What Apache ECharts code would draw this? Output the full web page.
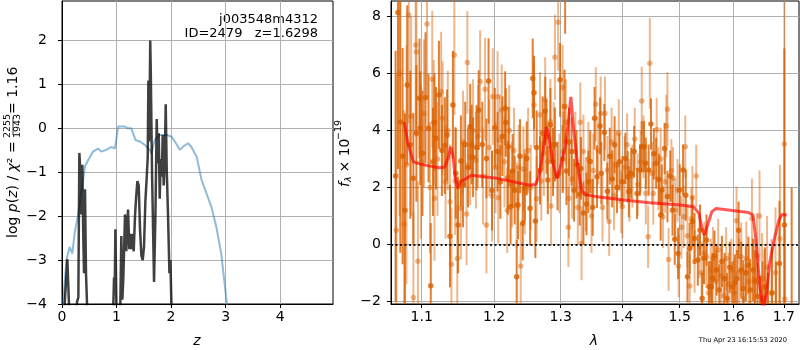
<!DOCTYPE html>
<html lang="en">
<head>
    <meta charset="UTF-8">
    <title>j003548m4312 redshift fit</title>
    <style>
        body {
            margin: 0;
            background: #fff;
        }

        #chart {
            width: 800px;
            height: 350px;
        }
    </style>
</head>
<body>
    <div id="chart"></div>
    <script src="https://cdn.jsdelivr.net/npm/echarts@6/dist/echarts.min.js"></script>
    <script>
        // ---- left panel: log p(z) ----
        var zTicks = [0, 1, 2, 3, 4];
        var logpTicks = [-4, -3, -2, -1, 0, 1, 2];

        // chi2 curve (blue), [z, value]
        var pzChi2 = [
            [0.0, -4.4], [0.02, -4.0], [0.08, -3.0], [0.14, -2.7], [0.17, -2.66], [0.19, -2.85],
            [0.23, -2.4], [0.29, -2.0], [0.35, -1.48], [0.42, -0.87], [0.48, -0.72], [0.57, -0.53],
            [0.66, -0.46], [0.72, -0.53], [0.81, -0.49], [0.91, -0.42], [0.97, -0.46], [1.0, -0.42],
            [1.03, 0.04], [1.06, 0.08], [1.15, 0.04], [1.21, 0.0], [1.27, 0.0], [1.30, -0.04],
            [1.35, -0.27], [1.43, -0.3], [1.52, -0.38], [1.61, -0.49], [1.64, -0.57], [1.70, -0.27],
            [1.79, -0.15], [1.92, -0.15], [2.01, -0.19], [2.07, -0.3], [2.16, -0.49], [2.22, -0.42],
            [2.31, -0.34], [2.37, -0.42], [2.47, -0.65], [2.56, -1.18], [2.65, -1.48], [2.74, -1.79],
            [2.83, -2.24], [2.92, -2.85], [3.02, -3.95], [3.1, -4.8], [3.2, -5.8]
        ];

        // log p(z) (black), [z, value]
        var pzLog = [
            [0.0, -6], [0.04, -6], [0.049, -4.0], [0.098, -2.98], [0.128, -4.0], [0.15, -6], [0.255, -6],
            [0.275, -3.95], [0.30, -3.85], [0.318, -0.56], [0.336, -0.95], [0.355, -1.96], [0.373, -0.83],
            [0.391, -2.5], [0.404, -3.3], [0.422, -1.39], [0.44, -3.3], [0.459, -4.0], [0.48, -6],
            [0.92, -6], [0.942, -4.0], [0.954, -3.4], [0.966, -3.8], [0.979, -2.3], [0.997, -4.0],
            [1.015, -6], [1.05, -6], [1.07, -4.0], [1.088, -2.45], [1.107, -3.9], [1.125, -3.4],
            [1.156, -1.96], [1.18, -2.8], [1.211, -1.85], [1.235, -2.75], [1.254, -2.4], [1.272, -2.75],
            [1.29, -2.4], [1.315, -2.8], [1.339, -2.0], [1.358, -1.6], [1.382, -1.2], [1.407, -1.3],
            [1.431, -2.3], [1.456, -2.9], [1.48, -3.0], [1.504, -2.7], [1.529, -1.66], [1.553, -1.13],
            [1.572, -0.67], [1.584, 1.09], [1.596, -0.3], [1.612, 1.2], [1.618, 2.0], [1.628, 1.3],
            [1.651, -1.0], [1.688, -3.5], [1.713, -2.0], [1.737, 0.21], [1.755, -0.8], [1.774, -0.11],
            [1.792, -1.6], [1.81, -0.7], [1.829, -1.1], [1.847, -0.15], [1.865, -1.3], [1.884, -0.8],
            [1.902, 0.55], [1.92, -0.9], [1.945, -2.0], [1.97, -3.3], [1.988, -3.0], [2.006, -4.0],
            [2.024, -6]
        ];

        // ---- right panel: spectrum ----
        var waveTicks = [1.1, 1.2, 1.3, 1.4, 1.5, 1.6, 1.7];
        var fluxTicks = [-2, 0, 2, 4, 6, 8];

        // [lambda, flux, err]
        var specDark = [
            [1.066, 2.4, 4.4], [1.069, 8.15, 5.5], [1.072, 4.3, 4.6], [1.075, 3.1, 3.8], [1.078, 1.2, 3.4],
            [1.081, 5.6, 2.8], [1.085, 3.5, 2.6], [1.089, 2.32, 2.3], [1.093, 3.9, 2.4], [1.097, 5.13, 2.1],
            [1.098, 4.08, 2.0], [1.101, 3.2, 2.2], [1.105, 5.15, 2.3], [1.109, 4.08, 1.9], [1.112, -1.45, 2.2],
            [1.115, 2.9, 1.9], [1.117, 4.29, 1.7], [1.119, 3.73, 1.8], [1.123, 5.25, 1.9], [1.127, 3.3, 1.6],
            [1.131, 3.47, 1.7], [1.134, 3.84, 1.6], [1.138, 0.29, 1.8], [1.142, 4.9, 1.9], [1.146, 2.5, 1.6],
            [1.149, 0.68, 1.7], [1.153, 2.93, 1.6], [1.156, 2.1, 1.5], [1.159, 3.51, 1.5], [1.163, 2.7, 1.4],
            [1.166, 4.14, 1.5], [1.168, 3.51, 1.4], [1.170, 3.06, 1.4], [1.175, 3.4, 1.5], [1.178, 4.72, 1.4],
            [1.183, 3.51, 1.5], [1.189, 3.02, 1.4], [1.192, 5.74, 1.5], [1.197, 1.89, 1.4], [1.201, 4.1, 1.4],
            [1.205, 3.26, 1.4], [1.209, 2.2, 1.3], [1.212, 3.8, 1.4], [1.216, 4.78, 1.3], [1.217, 4.28, 1.2],
            [1.220, 2.34, 1.3], [1.221, 3.43, 1.4], [1.224, 1.32, 1.3], [1.227, 2.58, 1.3], [1.230, 1.9, 1.2],
            [1.233, -1.14, 1.3], [1.235, 1.38, 1.2], [1.238, 3.1, 1.3], [1.242, 0.74, 1.3], [1.245, 2.0, 1.2],
            [1.248, 3.02, 1.3], [1.253, 1.27, 1.3], [1.257, 5.83, 1.4], [1.259, 5.33, 1.3], [1.261, 0.82, 1.3],
            [1.263, 3.4, 1.3], [1.268, 2.6, 1.2], [1.272, 3.9, 1.3], [1.276, 4.69, 1.2], [1.278, 3.78, 1.3],
            [1.280, 2.26, 1.2], [1.284, 4.19, 1.3], [1.288, 2.9, 1.2], [1.291, 3.51, 1.3], [1.295, 2.4, 1.2],
            [1.299, 5.78, 1.3], [1.303, 3.0, 1.2], [1.307, 9.6, 2.2], [1.306, 4.84, 1.3], [1.309, 2.58, 1.2],
            [1.313, 3.6, 1.2], [1.317, 3.26, 1.2], [1.321, 1.9, 1.1], [1.325, 2.81, 1.2], [1.330, 1.76, 1.1],
            [1.332, 2.67, 1.1], [1.336, 1.1, 1.1], [1.341, 1.42, 1.1], [1.344, 2.2, 1.1], [1.347, 2.91, 1.1],
            [1.351, 1.3, 1.0], [1.354, 4.43, 1.1], [1.358, 2.38, 1.1], [1.363, 4.16, 1.0], [1.365, 2.5, 1.1],
            [1.370, 3.93, 1.0], [1.375, 1.87, 1.0], [1.379, 3.1, 1.0], [1.383, 2.3, 1.0], [1.387, 3.5, 1.0],
            [1.391, 2.0, 0.9], [1.395, 2.9, 1.0], [1.400, 2.2, 0.9], [1.405, 3.02, 0.9], [1.409, 2.38, 0.9],
            [1.411, 1.85, 0.9], [1.415, 2.5, 0.9], [1.420, 3.26, 0.9], [1.425, 1.79, 0.9], [1.430, 2.61, 0.9],
            [1.433, 3.43, 0.9], [1.437, 3.43, 0.9], [1.440, 2.85, 0.9], [1.445, 2.61, 0.9], [1.449, 4.23, 0.9],
            [1.454, 3.18, 0.9], [1.458, 2.85, 0.9], [1.463, 2.28, 0.9], [1.466, 1.03, 0.9], [1.468, 1.91, 0.9],
            [1.473, 3.37, 0.9], [1.478, 1.68, 0.9], [1.483, 2.4, 0.9], [1.487, 1.2, 0.9], [1.491, 0.18, 0.9],
            [1.497, -0.32, 0.9], [1.500, 1.91, 0.9], [1.506, 2.61, 0.9], [1.511, 1.73, 0.9], [1.514, -1.14, 0.9],
            [1.518, -0.14, 0.9], [1.523, 0.8, 0.9], [1.527, 0.21, 0.9], [1.533, -0.55, 0.9], [1.537, 0.5, 0.9],
            [1.541, -1.9, 0.9], [1.544, -0.49, 0.9], [1.549, 0.15, 0.9], [1.554, -1.49, 0.9], [1.558, -1.49, 0.9],
            [1.560, -1.2, 0.9], [1.564, -0.41, 0.9], [1.568, -0.9, 0.9], [1.573, -1.6, 0.9], [1.578, -0.6, 0.9],
            [1.583, -1.2, 0.9], [1.588, -1.9, 0.9], [1.593, -0.8, 0.9], [1.598, -1.5, 0.9], [1.603, -1.35, 1.0],
            [1.607, -1.2, 1.0], [1.610, 0.5, 1.0], [1.615, -0.9, 1.0], [1.619, -1.55, 1.0], [1.624, -1.0, 1.0],
            [1.629, -0.73, 1.0], [1.633, -1.6, 1.1], [1.638, -0.9, 1.1], [1.642, -1.3, 1.1], [1.647, -1.83, 1.2],
            [1.652, -2.4, 1.3], [1.657, -1.9, 1.3], [1.662, -1.5, 1.4], [1.668, -2.5, 1.5], [1.676, -1.7, 1.6],
            [1.684, -2.6, 2.0], [1.691, -0.67, 2.2], [1.701, 0.68, 6.2], [1.716, -2.5, 4.5]
        ];

        var specLight = [
            [1.067, 0.5, 5.5], [1.071, 6.0, 5.0], [1.077, 0.71, 4.0], [1.080, 2.8, 4.2], [1.083, 8.06, 3.8],
            [1.086, 4.5, 3.5], [1.089, -1.87, 3.0], [1.092, 7.0, 3.1], [1.093, 6.77, 3.0], [1.095, -0.59, 2.8],
            [1.099, 2.9, 2.7], [1.103, 4.6, 2.6], [1.107, 7.74, 2.6], [1.111, 2.0, 2.3], [1.114, 5.8, 2.4],
            [1.116, 4.28, 2.2], [1.117, 1.62, 2.2], [1.121, 3.0, 2.0], [1.126, 5.37, 2.1], [1.128, 4.43, 2.0],
            [1.132, 2.2, 2.0], [1.135, 4.0, 2.1], [1.138, 1.5, 2.0], [1.140, -0.7, 2.0], [1.144, 6.65, 2.1],
            [1.145, 2.23, 1.9], [1.148, -0.5, 1.9], [1.153, 1.27, 1.8], [1.156, 3.6, 1.8], [1.161, 1.07, 1.8],
            [1.162, 6.39, 1.8], [1.166, 3.08, 1.7], [1.170, 4.0, 1.8], [1.174, 2.96, 1.7], [1.177, 3.8, 1.8],
            [1.180, 5.72, 1.8], [1.184, 2.4, 1.7], [1.187, 5.45, 1.8], [1.189, 0.68, 1.7], [1.193, 3.4, 1.7],
            [1.197, 1.70, 1.6], [1.198, 5.19, 1.7], [1.202, 2.7, 1.6], [1.205, 5.19, 1.6], [1.206, 1.64, 1.6],
            [1.208, 3.67, 1.6], [1.211, 4.72, 1.6], [1.215, 2.9, 1.6], [1.219, 1.2, 1.5], [1.222, 4.0, 1.6],
            [1.226, 2.1, 1.5], [1.229, 3.3, 1.5], [1.233, 1.38, 1.5], [1.236, 2.7, 1.5], [1.239, -0.76, 1.5],
            [1.243, 2.64, 1.5], [1.245, 1.85, 1.5], [1.250, 3.3, 1.5], [1.254, 2.0, 1.5], [1.259, 4.9, 1.5],
            [1.263, 1.6, 1.5], [1.268, 4.55, 1.5], [1.270, 2.23, 1.4], [1.274, 3.2, 1.5], [1.276, 5.07, 1.5],
            [1.280, 2.9, 1.4], [1.284, 4.31, 1.5], [1.285, 1.35, 1.4], [1.289, 3.5, 1.5], [1.291, 6.57, 1.5],
            [1.296, 7.8, 1.7], [1.298, 2.5, 1.4], [1.303, 5.51, 1.5], [1.304, 3.26, 1.4], [1.308, 4.3, 1.5],
            [1.312, 0.6, 1.4], [1.313, 1.62, 1.4], [1.318, 2.3, 1.4], [1.323, 3.26, 1.4], [1.327, 1.3, 1.3],
            [1.331, 4.29, 1.4], [1.333, 0.04, 1.3], [1.336, 3.26, 1.3], [1.340, 1.76, 1.3], [1.344, 3.0, 1.3],
            [1.349, 1.0, 1.3], [1.352, 2.6, 1.3], [1.356, 4.92, 1.3], [1.360, 3.3, 1.2], [1.364, 4.6, 1.3],
            [1.367, 1.3, 1.2], [1.371, 4.6, 1.3], [1.375, 2.61, 1.2], [1.378, 0.8, 1.2], [1.382, 3.6, 1.2],
            [1.386, 1.7, 1.2], [1.390, 2.8, 1.2], [1.394, 3.9, 1.2], [1.398, 1.5, 1.1], [1.400, 1.32, 1.1],
            [1.404, 2.7, 1.1], [1.408, 3.5, 1.1], [1.412, 1.9, 1.1], [1.417, 2.4, 1.1], [1.421, 3.7, 1.1],
            [1.426, 2.1, 1.1], [1.431, 2.9, 1.1], [1.433, 5.04, 1.2], [1.436, 3.43, 1.1], [1.440, 1.8, 1.1],
            [1.444, 0.27, 1.1], [1.447, 6.36, 1.6], [1.451, 2.5, 1.1], [1.453, 1.79, 1.1], [1.459, 4.04, 1.1],
            [1.462, 2.3, 1.1], [1.466, 3.0, 1.1], [1.470, 0.97, 1.1], [1.474, 2.2, 1.1], [1.476, 4.16, 1.1],
            [1.478, 4.75, 1.3], [1.480, -0.53, 1.1], [1.485, 2.6, 1.1], [1.488, 2.32, 1.1], [1.492, 1.21, 1.1],
            [1.496, 1.9, 1.1], [1.498, -0.76, 1.1], [1.503, 0.6, 1.1], [1.507, 0.97, 1.1], [1.510, 3.43, 1.1],
            [1.514, 0.3, 1.1], [1.518, -1.46, 1.1], [1.521, 0.9, 1.1], [1.523, 1.65, 1.1], [1.527, -0.6, 1.1],
            [1.530, 2.4, 1.1], [1.536, -0.08, 1.1], [1.540, -1.0, 1.1], [1.545, -0.3, 1.1], [1.549, -0.43, 1.1],
            [1.553, -1.7, 1.1], [1.557, -0.9, 1.1], [1.561, -0.49, 1.1], [1.566, -1.3, 1.1], [1.571, -0.2, 1.1],
            [1.576, -1.1, 1.1], [1.581, -1.8, 1.1], [1.586, -0.5, 1.1], [1.591, -1.4, 1.1], [1.596, -0.9, 1.1],
            [1.601, -1.7, 1.2], [1.606, 0.83, 1.2], [1.611, -1.0, 1.2], [1.615, -0.43, 1.2], [1.620, -1.9, 1.2],
            [1.625, -0.5, 1.3], [1.630, -1.3, 1.3], [1.636, 0.91, 1.4], [1.641, -1.23, 1.4], [1.646, -0.4, 1.5],
            [1.651, 1.0, 1.6], [1.656, -1.2, 1.6], [1.660, -1.87, 1.7], [1.666, -0.8, 1.8], [1.675, -1.72, 1.9],
            [1.683, -1.0, 2.3], [1.692, 0.2, 2.6], [1.701, 3.53, 6.0], [1.702, -1.92, 3.0]
        ];

        // best-fit template, [lambda, flux]
        var model = [
            [1.077, 4.30], [1.082, 3.54], [1.089, 2.90], [1.098, 2.82], [1.111, 2.75], [1.124, 2.69],
            [1.131, 2.72], [1.136, 3.08], [1.139, 3.43], [1.142, 3.13], [1.145, 2.37], [1.149, 1.96],
            [1.152, 2.20], [1.161, 2.32], [1.168, 2.43], [1.204, 2.32], [1.253, 2.08], [1.261, 2.11],
            [1.266, 2.37], [1.273, 3.31], [1.278, 4.13], [1.281, 3.89], [1.288, 2.84], [1.294, 2.32],
            [1.299, 2.67], [1.307, 3.43], [1.311, 4.13], [1.316, 5.18], [1.320, 4.13], [1.327, 2.73],
            [1.333, 1.91], [1.339, 1.75], [1.358, 1.67], [1.402, 1.56], [1.447, 1.46], [1.501, 1.38],
            [1.525, 1.32], [1.535, 1.09], [1.540, 0.62], [1.545, 0.33], [1.550, 0.62], [1.559, 1.15],
            [1.567, 1.26], [1.594, 1.20], [1.629, 1.12], [1.638, 1.03], [1.644, 0.15], [1.651, -1.37],
            [1.658, -2.3], [1.665, -1.72], [1.671, -0.67], [1.680, 0.15], [1.690, 0.85], [1.696, 1.05],
            [1.706, 1.03]
        ];

        var FONT = 'DejaVu Sans';
        var specColor = '#d96000';

        function minus(v) {
            return String(v).replace('-', '\u2212');
        }

        function logPts(pts) {
            return pts.map(function (p) {
                return [Math.log10(p[0])].concat(p.slice(1));
            });
        }

        function axisBase(ticks, margin, fmt) {
            return {
                type: 'value',
                axisLine: { show: true, onZero: false, lineStyle: { color: '#000', width: 1 } },
                axisTick: { show: true, length: 4, customValues: ticks, lineStyle: { color: '#000', width: 1 } },
                axisLabel: {
                    customValues: ticks, color: '#000', fontSize: 14, fontFamily: FONT,
                    margin: margin, formatter: fmt || minus
                },
                splitLine: { show: true, lineStyle: { color: '#b0b0b0', width: 1 } }
            };
        }

        function errorBars(pts, opacity) {
            return {
                type: 'custom',
                xAxisIndex: 1,
                yAxisIndex: 1,
                silent: true,
                data: logPts(pts),
                encode: { x: 0, y: 1 },
                renderItem: function (params, api) {
                    var x = api.value(0), y = api.value(1), e = api.value(2);
                    var lo = api.coord([x, y - e]);
                    var hi = api.coord([x, y + e]);
                    var rect = echarts.graphic.clipRectByRect({
                        x: lo[0] - 1, y: hi[1], width: 2, height: lo[1] - hi[1]
                    }, params.coordSys);
                    if (!rect) return;
                    return { type: 'rect', shape: rect, style: { fill: specColor, opacity: opacity } };
                }
            };
        }

        function dots(pts, opacity) {
            return {
                type: 'scatter',
                xAxisIndex: 1,
                yAxisIndex: 1,
                silent: true,
                symbolSize: 5.5,
                data: logPts(pts).map(function (p) { return [p[0], p[1]]; }),
                itemStyle: { color: specColor, opacity: opacity }
            };
        }

        var xL = axisBase(zTicks, 6);
        xL.gridIndex = 0; xL.min = 0; xL.max = 4.97;
        var yL = axisBase(logpTicks, 15);
        yL.gridIndex = 0; yL.min = -4; yL.max = 2.9;

        var xR = axisBase(waveTicks.map(Math.log10), 6, function (v) {
            return Math.pow(10, v).toFixed(1);
        });
        xR.gridIndex = 1; xR.min = Math.log10(1.0601); xR.max = Math.log10(1.7312);
        var yR = axisBase(fluxTicks, 10);
        yR.gridIndex = 1; yR.min = -2.094; yR.max = 8.55;

        var chart = echarts.init(document.getElementById('chart'), null, { renderer: 'canvas' });

        var option = {
            animation: false,
            backgroundColor: '#fff',
            grid: [
                { left: 62, top: 1, width: 271, height: 303, show: true, borderColor: '#000', borderWidth: 1, outerBoundsMode: 'none' },
                { left: 391, top: 1, width: 408, height: 303, show: true, borderColor: '#000', borderWidth: 1, outerBoundsMode: 'none' }
            ],
            xAxis: [xL, xR],
            yAxis: [yL, yR],
            series: [
                {
                    type: 'line', xAxisIndex: 0, yAxisIndex: 0, data: pzChi2, showSymbol: false, silent: true,
                    lineStyle: { color: '#1f77b4', opacity: 0.5, width: 2 }
                },
                {
                    type: 'line', xAxisIndex: 0, yAxisIndex: 0, data: pzLog, showSymbol: false, silent: true,
                    lineStyle: { color: '#000', opacity: 0.75, width: 2.5 }
                },
                errorBars(specLight, 0.45),
                dots(specLight, 0.45),
                errorBars(specDark, 0.8),
                dots(specDark, 0.8),
                {
                    type: 'line', xAxisIndex: 1, yAxisIndex: 1, data: logPts(model), showSymbol: false, silent: true,
                    lineStyle: { color: '#ff0000', opacity: 0.65, width: 3 },
                    markLine: {
                        silent: true, symbol: 'none', animation: false,
                        label: { show: false },
                        lineStyle: { color: '#000', type: [2, 2.5], width: 2, opacity: 0.85 },
                        data: [{ yAxis: 0 }]
                    }
                }
            ],
            graphic: [
                {
                    type: 'text', x: 318, y: 20,
                    style: { text: 'j003548m4312', font: '13px ' + FONT, fill: '#000', align: 'right', verticalAlign: 'middle' }
                },
                {
                    type: 'text', x: 318, y: 34,
                    style: { text: 'ID=2479   z=1.6298', font: '13px ' + FONT, fill: '#000', align: 'right', verticalAlign: 'middle' }
                },
                {
                    type: 'text', x: 197, y: 341,
                    style: { text: 'z', font: 'italic 14px ' + FONT, fill: '#000', align: 'center', verticalAlign: 'middle' }
                },
                {
                    type: 'text', x: 594, y: 341,
                    style: { text: 'λ', font: 'italic 14px ' + FONT, fill: '#000', align: 'center', verticalAlign: 'middle' }
                },
                {
                    type: 'text', x: 787, y: 340,
                    style: { text: 'Thu Apr 23 16:15:53 2020', font: '6.7px ' + FONT, fill: '#000', align: 'right', verticalAlign: 'middle' }
                },
                // left y label, rotated
                {
                    type: 'group', x: 13, y: 238, rotation: Math.PI / 2,
                    children: [
                        {
                            type: 'text', x: 0, y: 0,
                            style: {
                                text: '{r|log }{i|p}{r|(}{i|z}{r|) / }{i|χ}{r|² =}',
                                align: 'left', verticalAlign: 'middle', fill: '#000',
                                rich: {
                                    r: { fontFamily: FONT, fontSize: 14 },
                                    i: { fontFamily: FONT, fontSize: 14, fontStyle: 'italic' }
                                }
                            }
                        },
                        {
                            type: 'text', x: 112, y: -5,
                            style: { text: '2255', font: '9.5px ' + FONT, fill: '#000', align: 'center', verticalAlign: 'middle' }
                        },
                        {
                            type: 'text', x: 112, y: 5,
                            style: { text: '1943', font: '9.5px ' + FONT, fill: '#000', align: 'center', verticalAlign: 'middle' }
                        },
                        {
                            type: 'line', shape: { x1: 103, y1: 0, x2: 121, y2: 0 },
                            style: { stroke: '#000', lineWidth: 0.8 }
                        },
                        {
                            type: 'text', x: 124, y: 0,
                            style: { text: '= 1.16', font: '14px ' + FONT, fill: '#000', align: 'left', verticalAlign: 'middle' }
                        }
                    ]
                },
                // right y label, rotated
                {
                    type: 'group', x: 345, y: 187, rotation: Math.PI / 2,
                    children: [
                        {
                            type: 'text', x: 0, y: 0,
                            style: { text: 'f', font: 'italic 14px ' + FONT, fill: '#000', align: 'left', verticalAlign: 'middle' }
                        },
                        {
                            type: 'text', x: 5, y: 4,
                            style: { text: 'λ', font: 'italic 9.5px ' + FONT, fill: '#000', align: 'left', verticalAlign: 'middle' }
                        },
                        {
                            type: 'text', x: 10, y: 0,
                            style: { text: ' × 10', font: '14px ' + FONT, fill: '#000', align: 'left', verticalAlign: 'middle' }
                        },
                        {
                            type: 'text', x: 47, y: -6,
                            style: { text: '\u221219', font: '9.5px ' + FONT, fill: '#000', align: 'left', verticalAlign: 'middle' }
                        }
                    ]
                }
            ]
        };

        chart.setOption(option);
    </script>
</body>
</html>
